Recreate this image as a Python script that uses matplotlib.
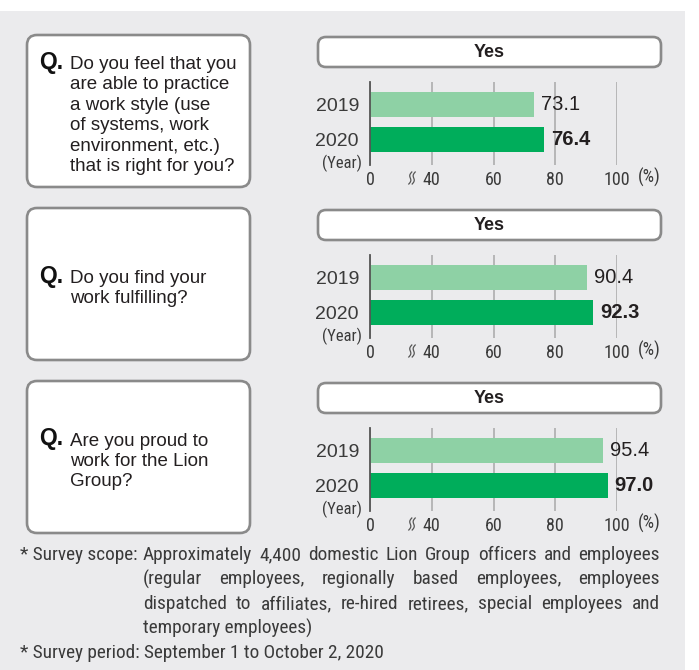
import numpy as np
import matplotlib
matplotlib.use("Agg")
import matplotlib.pyplot as plt
from matplotlib import font_manager as fm
from matplotlib.patches import FancyBboxPatch, Polygon, Rectangle
from matplotlib.colors import LinearSegmentedColormap

# ---- data
questions = [
    ["Do you feel that you", "are able to practice", "a work style (use",
     "of systems, work", "environment, etc.)", "that is right for you?"],
    ["Do you find your", "work fulfilling?"],
    ["Are you proud to", "work for the Lion", "Group?"],
]
years = ["2019", "2020"]
values_2019 = [73.1, 90.4, 95.4]
values_2020 = [76.4, 92.3, 97.0]
xticks = [0, 40, 60, 80, 100]
answer = "Yes"
note_scope_head = "* Survey scope:"
note_scope_lines = [
    "Approximately 4,400 domestic Lion Group officers and employees",
    "(regular employees, regionally based employees, employees",
    "dispatched to affiliates, re-hired retirees, special employees and",
    "temporary employees)",
]
note_period = "* Survey period: September 1 to October 2, 2020"


def pick(*names):
    have = {f.name for f in fm.fontManager.ttflist}
    for n in names:
        if n in have:
            return n
    return "DejaVu Sans"


REG = pick("Liberation Sans", "Arial", "Noto Sans")
NARROW = pick("Liberation Sans Narrow", "Arial Narrow", "Roboto Condensed", REG)

TXT = "#231f20"
GREY_TXT = "#3a3a3a"
BORDER = "#8a8a8a"
C19 = "#8ed1a5"
C20 = "#00ad5b"

W, H = 699, 670
fig = plt.figure(figsize=(W / 100, H / 100), dpi=100)
fig.patch.set_facecolor("white")
bg = fig.add_axes([0, 0, 1, 1])
bg.axis("off")
bg.add_patch(Rectangle((0, 11), 685, H - 11, fc="#ebebed", ec="none"))

arrow_cmap = LinearSegmentedColormap.from_list("arr", ["#d6d6d6", "#8c8c8c"])


# broken axis: 0..40 squeezed into half the room of 40..100
def fwd(v):
    v = np.asarray(v, float)
    return np.where(v < 40, v / 2, v - 20)


def inv(u):
    u = np.asarray(u, float)
    return np.where(u < 20, u * 2, u + 20)


STEP = 173
LINE = 20.5
for i, q in enumerate(questions):
    dy = i * STEP
    # question box
    bg.add_patch(FancyBboxPatch((27, 35 + dy), 223, 152,
                                boxstyle="round,pad=0,rounding_size=10",
                                fc="white", ec=BORDER, lw=1.9))
    b0 = 111 + dy + 9 - (len(q) - 1) * LINE / 2
    bg.text(39, b0, "Q.", fontsize=16.5, fontweight="bold", family=REG,
            color="#111111", va="baseline", ha="left")
    for k, line in enumerate(q):
        bg.text(70, b0 + k * LINE, line, fontsize=13.5, family=REG,
                color=TXT, va="baseline", ha="left")

    # gradient arrow
    cy = 111.5 + dy
    pts = [(265, cy - 13), (283, cy - 13), (283, cy - 19.5), (302, cy),
           (283, cy + 19.5), (283, cy + 13), (265, cy + 13)]
    poly = Polygon(pts, closed=True, fc="none", ec="none")
    bg.add_patch(poly)
    im = bg.imshow(np.linspace(0, 1, 64).reshape(1, -1), cmap=arrow_cmap,
                   extent=(265, 302, cy + 20, cy - 20), aspect="auto",
                   interpolation="bilinear")
    im.set_clip_path(poly)

    # "Yes" header box
    bg.add_patch(FancyBboxPatch((318, 37 + dy), 343, 30,
                                boxstyle="round,pad=0,rounding_size=8",
                                fc="white", ec=BORDER, lw=1.9))
    bg.text(489.5, 52.5 + dy, answer, fontsize=13, fontweight="bold",
            family=REG, color=TXT, ha="center", va="center")

    # bar chart
    ax = fig.add_axes([370 / W, 1 - (165 + dy) / H, 247 / W, 83 / H])
    ax.set_facecolor("none")
    ax.set_xscale("function", functions=(fwd, inv))
    ypos = np.arange(len(years))
    vals = [values_2019[i], values_2020[i]]
    ax.barh(ypos, vals, height=0.714, color=[C19, C20], zorder=2)
    ax.set_xlim(0, 100)
    ax.set_ylim(1.729, -0.643)
    ax.set_xticks(xticks)
    ax.set_xticklabels([str(t) for t in xticks], family=NARROW, fontsize=13,
                       color=GREY_TXT)
    ax.set_yticks(ypos)
    ax.set_yticklabels(years, family=REG, fontsize=14, color=GREY_TXT)
    ax.tick_params(axis="x", length=0, pad=4)
    ax.tick_params(axis="y", length=0, pad=8)
    ax.grid(axis="x", color="#a8a8a8", lw=1.1, zorder=1)
    ax.set_axisbelow(True)
    for s in ["top", "right", "bottom"]:
        ax.spines[s].set_visible(False)
    ax.spines["left"].set_color("#555555")
    ax.spines["left"].set_linewidth(1.3)
    ax.spines["left"].set_zorder(3)
    for yi, v in zip(ypos, vals):
        ax.annotate(f"{v:.1f}", (v, yi), xytext=(7, 0),
                    textcoords="offset pixels", va="center", ha="left",
                    fontsize=14.5, family=REG, color=TXT,
                    fontweight="bold" if yi == 1 else "normal")

    bg.text(362, 163 + dy, "(Year)", fontsize=12, family=NARROW,
            color=GREY_TXT, ha="right", va="center")
    bg.text(638, 177 + dy, "(%)", fontsize=13, family=NARROW,
            color=GREY_TXT, ha="left", va="center")
    # break mark next to 40
    t = np.linspace(0, 1, 30)
    for off in (-1.7, 1.7):
        xx = 412 + off + (t - 0.5) * 3 + 1.2 * np.sin(2 * np.pi * t)
        yy = 184 + dy - 12 * t
        bg.plot(xx, yy, color="#555555", lw=0.9)

# footnote, justified like the original
renderer = fig.canvas.get_renderer()
FN = dict(fontsize=13.9, family=NARROW, color=GREY_TXT, va="baseline", ha="left")


def put_justified(text, x0, x1, y):
    words = text.split()
    items = [bg.text(0, y, w, **FN) for w in words]
    widths = [it.get_window_extent(renderer).width for it in items]
    gap = (x1 - x0 - sum(widths)) / (len(words) - 1)
    x = x0
    for it, w in zip(items, widths):
        it.set_x(x)
        x += w + gap


base = [560, 584.5, 609, 633.5, 658]
bg.text(20, base[0], note_scope_head, **FN)
for k, line in enumerate(note_scope_lines):
    if k < len(note_scope_lines) - 1:
        put_justified(line, 143, 660, base[k])
    else:
        bg.text(143, base[k], line, **FN)
bg.text(20, base[4], note_period, **FN)

bg.set_xlim(0, W)
bg.set_ylim(H, 0)
fig.savefig("out.png", dpi=100)
